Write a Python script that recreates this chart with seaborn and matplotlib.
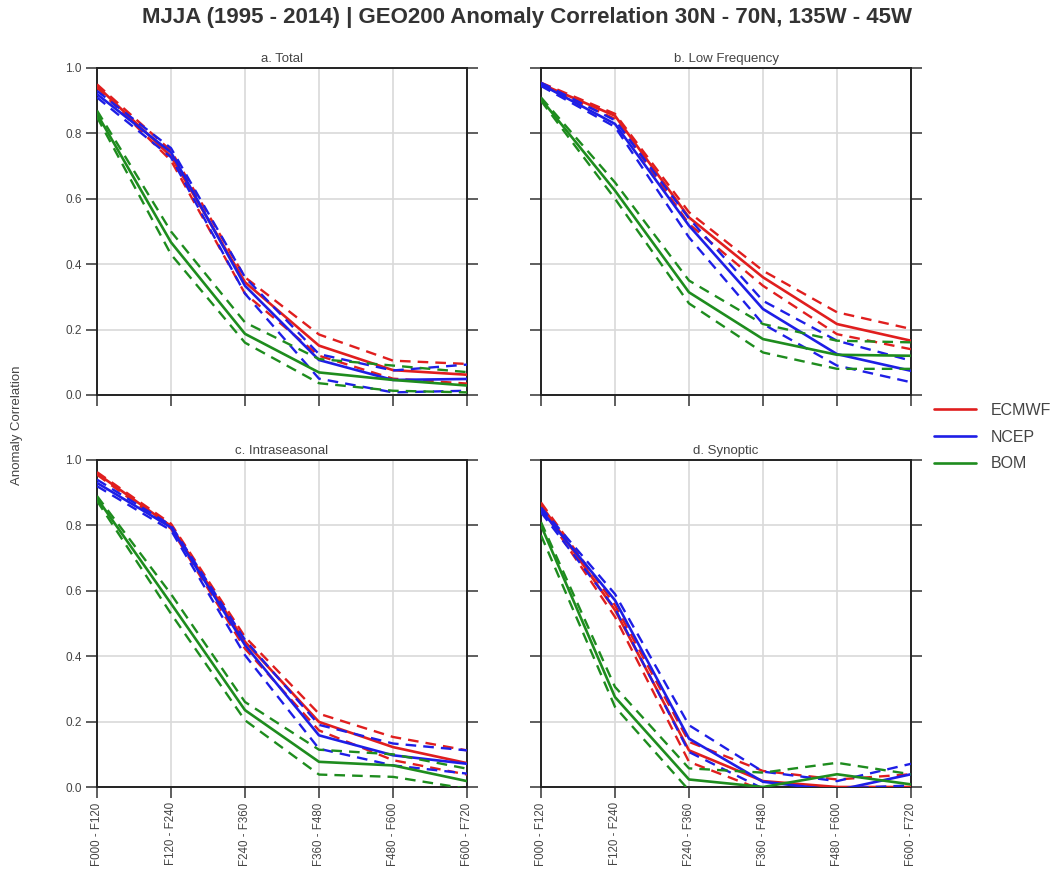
import numpy as np
import pandas as pd
import matplotlib
matplotlib.use("Agg")
import matplotlib.pyplot as plt
import seaborn as sns
from matplotlib.lines import Line2D

leads = ["F000 - F120", "F120 - F240", "F240 - F360", "F360 - F480", "F480 - F600", "F600 - F720"]
models = ["ECMWF", "NCEP", "BOM"]
panel_titles = ["a. Total", "b. Low Frequency", "c. Intraseasonal", "d. Synoptic"]

# a. Total
total_ecmwf = [0.945, 0.73, 0.345, 0.151, 0.076, 0.062]
total_ecmwf_hi = [0.95, 0.747, 0.36, 0.185, 0.105, 0.095]
total_ecmwf_lo = [0.94, 0.717, 0.31, 0.12, 0.05, 0.035]
total_ncep = [0.92, 0.742, 0.334, 0.107, 0.046, 0.049]
total_ncep_hi = [0.93, 0.755, 0.36, 0.125, 0.075, 0.093]
total_ncep_lo = [0.91, 0.727, 0.31, 0.05, 0.008, 0.013]
total_bom = [0.86, 0.467, 0.187, 0.069, 0.046, 0.029]
total_bom_hi = [0.87, 0.50, 0.222, 0.11, 0.09, 0.07]
total_bom_lo = [0.85, 0.43, 0.16, 0.036, 0.013, 0.008]

# b. Low Frequency
low_ecmwf = [0.951, 0.854, 0.543, 0.36, 0.217, 0.166]
low_ecmwf_hi = [0.955, 0.86, 0.559, 0.38, 0.253, 0.202]
low_ecmwf_lo = [0.947, 0.845, 0.523, 0.334, 0.186, 0.14]
low_ncep = [0.95, 0.829, 0.518, 0.263, 0.125, 0.074]
low_ncep_hi = [0.955, 0.84, 0.54, 0.288, 0.166, 0.105]
low_ncep_lo = [0.945, 0.82, 0.482, 0.217, 0.09, 0.039]
low_bom = [0.905, 0.625, 0.314, 0.171, 0.123, 0.12]
low_bom_hi = [0.91, 0.65, 0.35, 0.217, 0.166, 0.161]
low_bom_lo = [0.90, 0.60, 0.28, 0.13, 0.08, 0.08]

# c. Intraseasonal
intra_ecmwf = [0.959, 0.798, 0.444, 0.199, 0.122, 0.073]
intra_ecmwf_hi = [0.963, 0.805, 0.459, 0.224, 0.153, 0.112]
intra_ecmwf_lo = [0.955, 0.79, 0.423, 0.173, 0.082, 0.038]
intra_ncep = [0.93, 0.794, 0.434, 0.158, 0.097, 0.071]
intra_ncep_hi = [0.94, 0.80, 0.45, 0.19, 0.133, 0.112]
intra_ncep_lo = [0.92, 0.785, 0.403, 0.117, 0.066, 0.041]
intra_bom = [0.883, 0.561, 0.235, 0.077, 0.066, 0.018]
intra_bom_hi = [0.89, 0.59, 0.26, 0.114, 0.10, 0.056]
intra_bom_lo = [0.875, 0.53, 0.204, 0.038, 0.031, -0.005]

# d. Synoptic
syn_ecmwf = [0.863, 0.541, 0.112, 0.018, 0.0, 0.0]
syn_ecmwf_hi = [0.87, 0.556, 0.138, 0.049, 0.023, 0.039]
syn_ecmwf_lo = [0.855, 0.52, 0.077, -0.01, -0.01, -0.01]
syn_ncep = [0.847, 0.571, 0.148, 0.016, -0.01, 0.039]
syn_ncep_hi = [0.855, 0.59, 0.189, 0.047, 0.018, 0.071]
syn_ncep_lo = [0.84, 0.546, 0.107, -0.005, -0.005, 0.005]
syn_bom = [0.80, 0.275, 0.023, 0.0, 0.039, 0.008]
syn_bom_hi = [0.81, 0.306, 0.057, 0.044, 0.074, 0.039]
syn_bom_lo = [0.77, 0.245, -0.01, -0.02, -0.02, -0.02]

panels = [
    [(total_ecmwf, total_ecmwf_hi, total_ecmwf_lo), (total_ncep, total_ncep_hi, total_ncep_lo), (total_bom, total_bom_hi, total_bom_lo)],
    [(low_ecmwf, low_ecmwf_hi, low_ecmwf_lo), (low_ncep, low_ncep_hi, low_ncep_lo), (low_bom, low_bom_hi, low_bom_lo)],
    [(intra_ecmwf, intra_ecmwf_hi, intra_ecmwf_lo), (intra_ncep, intra_ncep_hi, intra_ncep_lo), (intra_bom, intra_bom_hi, intra_bom_lo)],
    [(syn_ecmwf, syn_ecmwf_hi, syn_ecmwf_lo), (syn_ncep, syn_ncep_hi, syn_ncep_lo), (syn_bom, syn_bom_hi, syn_bom_lo)],
]

sns.set_theme(style="whitegrid")
plt.rcParams["font.family"] = ["Liberation Sans", "DejaVu Sans"]

palette = {"ECMWF": "#e01e1e", "NCEP": "#1e1ee6", "BOM": "#1e8c1e"}
dashes = {"mean": "", "upper": (4.5, 3), "lower": (4.5, 3)}
sizes = {"mean": 1.9, "upper": 1.7, "lower": 1.7}

fig = plt.figure(figsize=(10.54, 8.77), dpi=100)
W, H = 1054, 877
boxes = [(97, 68, 467, 395), (541, 68, 911, 395), (97, 460, 467, 787), (541, 460, 911, 787)]

for i, (x0, y0, x1, y1) in enumerate(boxes):
    ax = fig.add_axes([x0 / W, 1 - y1 / H, (x1 - x0) / W, (y1 - y0) / H])
    rows = []
    for m, (mean, hi, lo) in zip(models, panels[i]):
        for kind, vals in zip(["mean", "upper", "lower"], [mean, hi, lo]):
            for j, v in enumerate(vals):
                rows.append({"lead": j, "value": v, "model": m, "kind": kind})
    df = pd.DataFrame(rows)
    sns.lineplot(data=df, x="lead", y="value", hue="model", style="kind", size="kind",
                 hue_order=models, palette=palette, dashes=dashes, sizes=sizes,
                 estimator=None, sort=False, legend=False, ax=ax, zorder=3)
    ax.set_xlim(0, 5)
    ax.set_ylim(0, 1.0)
    ax.set_xticks(range(6))
    ax.set_yticks([0, 0.2, 0.4, 0.6, 0.8, 1.0])
    ax.grid(True, color="#d9d9d9", linewidth=1.2)
    ax.set_facecolor("white")
    for s in ax.spines.values():
        s.set_visible(True)
        s.set_color("#222222")
        s.set_linewidth(1.4)
    ax.tick_params(axis="both", which="both", direction="out", length=8, width=1.1, color="#333333",
                   labelsize=8.5, labelcolor="#444444", pad=3)
    ax.tick_params(axis="y", left=True, right=True)
    ax.tick_params(axis="x", bottom=True, top=False)
    ax.set_xlabel("")
    ax.set_ylabel("")
    ax.set_title(panel_titles[i], fontsize=9.5, color="#444444", pad=4)
    if i in (0, 2):
        ax.set_yticklabels(["0.0", "0.2", "0.4", "0.6", "0.8", "1.0"])
    else:
        ax.set_yticklabels([])
    if i in (2, 3):
        ax.set_xticklabels(leads, rotation=90, fontsize=8.3)
    else:
        ax.set_xticklabels([])

fig.text(0.5, 1 - 18 / H, "MJJA (1995 - 2014) | GEO200 Anomaly Correlation 30N - 70N, 135W - 45W",
         ha="center", va="center", fontsize=16, fontweight="bold", color="#333333")
fig.text(17 / W, 1 - 425 / H, "Anomaly Correlation", rotation=90, ha="center", va="center",
         fontsize=9.5, color="#444444")

handles = [Line2D([0], [0], color=palette[m], lw=1.9) for m in models]
fig.legend(handles, models, loc="center left", bbox_to_anchor=(920 / W, 1 - 437 / H),
           frameon=False, fontsize=11.5, handlelength=2.6, labelspacing=0.75, handletextpad=0.9,
           labelcolor="#444444")

fig.savefig("out.png", dpi=100)
